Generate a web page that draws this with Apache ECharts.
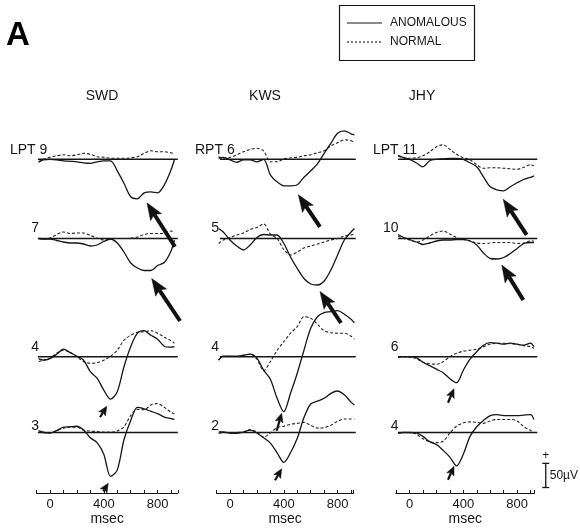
<!DOCTYPE html>
<html><head><meta charset="utf-8">
<script src="https://cdn.jsdelivr.net/npm/echarts/dist/echarts.min.js"></script>
<style>html,body{margin:0;padding:0;background:#fff}#c{width:580px;height:529px}</style>
</head><body><div id="c"></div>
<script>
// ---------- DATA ----------
const times = [-85,-50,0,50,100,150,200,250,300,350,400,450,500,550,600,650,700,750,800,850,900,925];
const subjects = ['SWD','KWS','JHY'];
const rowLabels = [['LPT 9','7','4','3'],['RPT 6','5','4','2'],['LPT 11','10','6','4']];
const tickLabels = [0,400,800];

const swd9A = [-6,-1,0,-1,-3,-4,-5,-7,-8,-5,-3,-3,-23,-48,-75,-79,-67,-65,-67,-51,-21,-1];
const swd9N = [-5,0,4,7,9,7,9,12,10,5,4,2,2,2,3,5,12,17,15,15,13,11];
const swd7A = [0,-1,-1,-4,-7,-9,-9,-11,-15,-13,-6,-1,-9,-27,-49,-59,-64,-64,-54,-48,-25,-3];
const swd7N = [0,-1,1,8,13,10,11,11,6,1,-3,-1,0,0,1,3,8,10,10,11,15,11];
const swd4A = [-4,-7,-4,5,15,8,1,-7,-30,-43,-67,-85,-70,-20,20,47,52,43,35,21,19,20];
const swd4N = [-10,-7,-3,7,13,9,0,-10,-13,-12,-7,1,13,33,43,49,50,52,47,39,32,27];
const swd3A = [4,1,-1,4,11,12,13,5,-11,-21,-45,-91,-78,-15,25,52,49,44,39,32,29,27];
const swd3N = [1,-1,-1,4,9,11,11,5,3,2,1,1,3,12,35,48,47,57,60,52,42,39];

const kws6A = [2,4,-1,-6,-1,-1,-5,0,-31,-45,-53,-53,-51,-36,-23,-9,12,32,52,57,51,49];
const kws6N = [5,2,4,9,15,20,22,17,-5,-5,1,3,4,7,9,13,17,27,33,39,37,33];
const kws5A = [20,13,-3,-15,-23,-13,2,8,7,7,-10,-37,-60,-80,-91,-93,-85,-63,-33,-3,13,20];
const kws5N = [-10,-3,2,7,11,18,22,29,9,0,-22,-33,-27,-19,-15,-11,-7,-3,0,5,7,9];
const kws4A = [-7,1,1,1,3,5,-3,-27,-45,-83,-110,-73,-33,13,57,80,88,90,92,85,75,68];
const kws4N = [-7,1,1,0,3,5,-5,-28,-10,13,30,47,60,80,77,65,52,48,47,47,41,35];
const kws2A = [1,1,-1,-2,1,5,-1,-11,-22,-42,-62,-42,-12,31,59,65,71,81,86,78,63,57];
const kws2N = [-2,0,-1,0,1,6,1,-10,-1,10,13,17,19,21,15,9,10,15,23,28,28,28];

const jhy11A = [8,4,0,-7,-15,-3,0,1,2,2,0,-7,-15,-35,-55,-61,-63,-55,-47,-40,-36,-33];
const jhy11N = [7,3,2,3,7,15,25,29,20,10,3,-1,-11,-18,-17,-17,-18,-19,-20,-16,-11,-13];
const jhy10A = [8,3,-2,-7,-12,-9,-5,-3,-3,-2,-2,-5,-13,-29,-40,-41,-38,-30,-20,-10,-8,-8];
const jhy10N = [5,1,-3,-7,-3,5,12,15,9,2,-2,-5,-9,-10,-9,-8,-8,-8,-10,-9,-5,-5];
const jhy6A = [-1,0,0,-2,-11,-18,-25,-32,-44,-52,-27,-5,10,23,28,27,25,27,25,23,27,20];
const jhy6N = [-1,0,-1,-4,-11,-14,-15,-10,0,7,11,13,15,20,25,27,27,26,25,22,20,17];
const jhy4A = [-1,0,0,-1,-8,-19,-25,-37,-51,-69,-45,-8,12,25,35,37,35,35,35,36,37,27];
const jhy4N = [-1,0,0,-3,-13,-19,-21,-18,-1,13,20,22,21,19,24,27,27,27,24,12,4,2];

const anomalous = [[swd9A,swd7A,swd4A,swd3A],[kws6A,kws5A,kws4A,kws2A],[jhy11A,jhy10A,jhy6A,jhy4A]];
const normal    = [[swd9N,swd7N,swd4N,swd3N],[kws6N,kws5N,kws4N,kws2N],[jhy11N,jhy10N,jhy6N,jhy4N]];

// baseline extents (ms) per column
const baseStart = [-90,-75,-85];
const baseEnd = [950,935,950];
// arrows in panel data units: [col,row,tTail,vTail,tTip,vTip,kind]
const arrows = [
  [0,0,929,-175,721,-87,'L'],[0,1,967,-165,756,-80,'L'],[0,2,372,-121,422,-99,'S'],[0,3,396,-122,433,-105,'S'],
  [1,0,669,-135,508,-71,'L'],[1,1,825,-169,669,-106,'L'],[1,2,347,-148,384,-113,'S'],[1,3,335,-99,384,-75,'S'],
  [2,0,871,-151,697,-80,'L'],[2,1,846,-123,686,-53,'L'],[2,2,286,-92,331,-64,'S'],[2,3,286,-98,331,-70,'S']
];
// scale bar: 50 µV drawn in the JHY bottom panel
const scaleBar = {t:1013, v0:-114, size:50, label:'50µV'};

// ---------- LAYOUT ----------
const colX0 = [50,230,409.5];
const rowBase = [159.3,238.5,356.7,436];
const axisY = 493;
const axisMax = [950,920,930];
const pxPerMs = 0.1345, pxPerUv = 0.5;
const xMin = -100, xMax = 1000, yMin = -200, yMax = 200;
const INK = '#161616';
const FONT = '"Liberation Sans", Arial, Helvetica, sans-serif';

const grid = [], xAxis = [], yAxis = [], series = [];
for (let c = 0; c < 3; c++) {
  for (let r = 0; r < 4; r++) {
    const g = c*4 + r;
    grid.push({left: colX0[c] + xMin*pxPerMs, top: rowBase[r] - yMax*pxPerUv,
               width: (xMax-xMin)*pxPerMs, height: (yMax-yMin)*pxPerUv});
    xAxis.push({gridIndex: g, type:'value', min:xMin, max:xMax, show:false});
    yAxis.push({gridIndex: g, type:'value', min:yMin, max:yMax, show:false});
    series.push({
      type:'line', xAxisIndex:g, yAxisIndex:g, silent:true, clip:false, animation:false,
      data:[[baseStart[c],0],[baseEnd[c],0]], symbol:'none',
      lineStyle:{color:INK, width:1.5}
    });
    series.push({
      type:'line', xAxisIndex:g, yAxisIndex:g, silent:true, clip:false, animation:false,
      data: times.map((t,i)=>[t, normal[c][r][i]]), symbol:'none', smooth:0.3,
      lineStyle:{color:'#222', width:1.1, type:[3,2]}
    });
    series.push({
      type:'line', xAxisIndex:g, yAxisIndex:g, silent:true, clip:false, animation:false,
      data: times.map((t,i)=>[t, anomalous[c][r][i]]), symbol:'none', smooth:0.3,
      lineStyle:{color:INK, width:1.3}
    });
  }
}
// time axes
for (let c = 0; c < 3; c++) {
  const g = 12 + c;
  grid.push({left: colX0[c] - 100*pxPerMs, top: axisY - 40, width: (axisMax[c]+100)*pxPerMs, height: 40});
  xAxis.push({gridIndex:g, type:'value', min:-100, max:axisMax[c], interval:100, position:'bottom',
    axisLine:{show:true, onZero:false, lineStyle:{color:INK, width:1.2}},
    axisTick:{show:true, inside:true, length:3, lineStyle:{color:INK, width:1}},
    splitLine:{show:false},
    axisLabel:{margin:5, fontSize:13, color:INK, fontFamily:FONT,
      formatter: v => tickLabels.includes(v) ? String(v) : ''},
    name:'msec', nameLocation:'middle', nameGap:19,
    nameTextStyle:{fontSize:14, color:INK, fontFamily:FONT}
  });
  yAxis.push({gridIndex:g, type:'value', show:false, min:0, max:1});
}

const graphic = [];
graphic.push({type:'text', x:6, y:36, style:{text:'A', font:'bold 33px ' + FONT, fill:'#000', verticalAlign:'middle'}});
// legend box
graphic.push({type:'rect', shape:{x:339.5, y:5.5, width:135, height:55}, style:{fill:'none', stroke:INK, lineWidth:1.2}});
graphic.push({type:'line', shape:{x1:347, y1:23, x2:382, y2:23}, style:{stroke:INK, lineWidth:1.2}});
graphic.push({type:'line', shape:{x1:347, y1:42, x2:382, y2:42}, style:{stroke:INK, lineWidth:1.1, lineDash:[2,2]}});
graphic.push({type:'text', x:390, y:23, style:{text:'ANOMALOUS', font:'12px ' + FONT, fill:INK, verticalAlign:'middle'}});
graphic.push({type:'text', x:390, y:42, style:{text:'NORMAL', font:'12px ' + FONT, fill:INK, verticalAlign:'middle'}});
// column titles
const titleX = [102,265,422];
subjects.forEach((s,c) => graphic.push({type:'text', x:titleX[c], y:96,
  style:{text:s, font:'14px ' + FONT, fill:INK, align:'center', verticalAlign:'middle'}}));
// row labels
const firstLeft = [-40,-35,-36.5];
for (let c = 0; c < 3; c++) for (let r = 0; r < 4; r++) {
  const txt = rowLabels[c][r];
  if (r === 0) graphic.push({type:'text', x: colX0[c] + firstLeft[c], y: rowBase[r] - 9,
    style:{text:txt, font:'14px ' + FONT, fill:INK, verticalAlign:'middle'}});
  else graphic.push({type:'text', x: colX0[c] - 11, y: rowBase[r] - 10,
    style:{text:txt, font:'14px ' + FONT, fill:INK, align:'right', verticalAlign:'middle'}});
}

const chart = echarts.init(document.getElementById('c'), null, {renderer:'canvas'});
chart.setOption({animation:false, backgroundColor:'#fff', grid, xAxis, yAxis, series, graphic});

// arrows positioned through each panel's own scales
arrows.forEach(a => {
  const g = a[0]*4 + a[1];
  const big = a[6] === 'L';
  const P = chart.convertToPixel({gridIndex:g}, [a[2], a[3]]);
  const T = chart.convertToPixel({gridIndex:g}, [a[4], a[5]]);
  const dx = T[0]-P[0], dy = T[1]-P[1], L = Math.hypot(dx, dy);
  const ux = dx/L, uy = dy/L, nx = -uy, ny = ux;
  const H = big ? 17 : 9, W = big ? 6.5 : 4;
  const bx = T[0]-ux*H, by = T[1]-uy*H;
  const mx = T[0]-ux*H*0.8, my = T[1]-uy*H*0.8;
  graphic.push({type:'line', z:10, shape:{x1:P[0], y1:P[1], x2:mx, y2:my},
    style:{stroke:'#111', lineWidth: big ? 4 : 2.2}});
  graphic.push({type:'polygon', z:10, shape:{points:[[T[0],T[1]],[bx+nx*W,by+ny*W],[mx,my],[bx-nx*W,by-ny*W]]},
    style:{fill:'#111', stroke:'#111', lineWidth:0.5}});
});

// scale bar from the panel's own scale
const p0 = chart.convertToPixel({gridIndex:11}, [scaleBar.t, scaleBar.v0]);
const p1 = chart.convertToPixel({gridIndex:11}, [scaleBar.t, scaleBar.v0 + scaleBar.size]);
graphic.push({type:'line', shape:{x1:p0[0], y1:p0[1], x2:p1[0], y2:p1[1]}, style:{stroke:INK, lineWidth:1.3}});
graphic.push({type:'line', shape:{x1:p0[0]-3.5, y1:p0[1], x2:p0[0]+3.5, y2:p0[1]}, style:{stroke:INK, lineWidth:1.3}});
graphic.push({type:'line', shape:{x1:p1[0]-3.5, y1:p1[1], x2:p1[0]+3.5, y2:p1[1]}, style:{stroke:INK, lineWidth:1.3}});
graphic.push({type:'text', x:p1[0], y:p1[1]-8, style:{text:'+', font:'12px ' + FONT, fill:INK, align:'center', verticalAlign:'middle'}});
graphic.push({type:'text', x:p0[0]+4, y:(p0[1]+p1[1])/2, style:{text:scaleBar.label, font:'12px ' + FONT, fill:INK, verticalAlign:'middle'}});
chart.setOption({graphic});
</script></body></html>
